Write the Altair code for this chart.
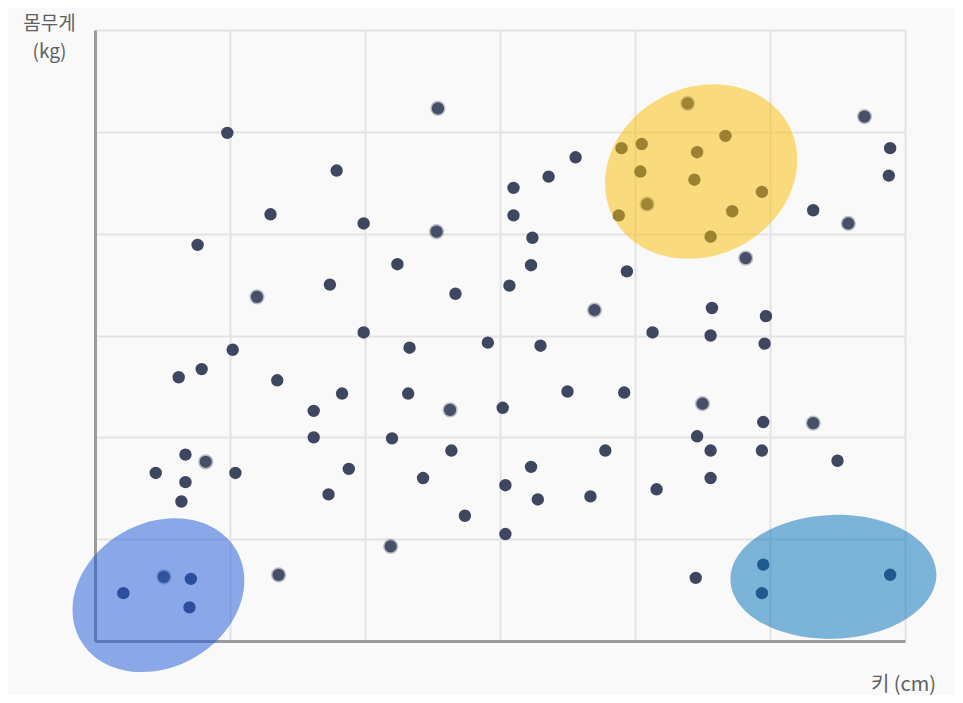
import altair as alt
import pandas as pd

# ---- scatter points (x = 키, y = 몸무게, in grid units 0..6) ----
pt_x = [0.98, 2.54, 0.76, 1.30, 1.79, 1.20, 1.99, 2.53, 2.24, 1.74,
        2.67, 1.99, 2.33, 1.02, 0.62, 0.79, 1.35, 1.62, 1.83, 2.32,
        2.63, 1.62, 2.20, 2.64, 0.67, 0.82, 0.45, 1.04, 0.67, 0.64,
        1.88, 1.73, 2.43, 2.74, 2.19, 1.36, 3.10, 3.36, 3.56, 3.10,
        3.24, 3.23, 3.07, 2.91, 3.30, 3.70, 3.02, 3.50, 3.92, 3.78,
        3.23, 3.04, 3.28, 3.67, 3.04, 3.94, 4.13, 4.16, 4.45, 4.56,
        4.57, 4.96, 4.97, 4.50, 4.46, 4.56, 4.56, 4.94, 4.95, 5.32,
        5.50, 4.82, 5.32, 5.58, 5.70, 5.89, 5.88,
        4.39, 3.90, 4.05, 4.04, 3.88, 4.09, 4.46, 4.44, 4.67, 4.56,
        4.72, 4.94,
        0.21, 0.51, 0.71, 0.70,
        4.95, 4.94, 5.89]
pt_y = [4.99, 5.23, 3.89, 4.19, 4.62, 3.38, 4.10, 4.02, 3.70, 3.50,
        3.41, 3.03, 2.88, 2.86, 2.59, 2.67, 2.56, 2.26, 2.43, 2.43,
        2.27, 2.00, 1.99, 1.87, 1.83, 1.76, 1.65, 1.65, 1.56, 1.37,
        1.69, 1.44, 1.60, 1.23, 0.93, 0.65, 4.45, 4.56, 4.75, 4.18,
        3.96, 3.69, 3.49, 2.93, 2.90, 3.25, 2.29, 2.45, 2.44, 1.87,
        1.71, 1.53, 1.39, 1.42, 1.05, 3.63, 3.03, 1.49, 0.62, 3.00,
        3.27, 2.92, 3.19, 2.33, 2.01, 1.87, 1.60, 1.87, 2.15, 2.14,
        1.77, 3.76, 4.23, 4.10, 5.15, 4.84, 4.57,
        5.28, 4.84, 4.88, 4.61, 4.18, 4.29, 4.80, 4.53, 4.96, 3.97,
        4.22, 4.41,
        0.47, 0.63, 0.61, 0.33,
        0.75, 0.47, 0.65]
pt_soft = [0, 1, 0, 0, 0, 1, 0, 1, 0, 0,
           0, 0, 0, 0, 0, 0, 0, 0, 0, 0,
           1, 0, 0, 0, 0, 1, 0, 0, 0, 0,
           0, 0, 0, 0, 1, 1, 0, 0, 0, 0,
           0, 0, 0, 0, 0, 1, 0, 0, 0, 0,
           0, 0, 0, 0, 0, 0, 0, 0, 0, 0,
           0, 0, 0, 1, 0, 0, 0, 0, 0, 1,
           0, 1, 0, 1, 1, 0, 0,
           1, 0, 0, 0, 0, 1, 0, 0, 0, 0,
           0, 0,
           0, 1, 0, 0,
           0, 0, 0]

# ---- highlight ellipses ----
ell_name = ["small", "large", "tall"]
ell_x = [0.47, 4.49, 5.47]
ell_y = [0.45, 4.61, 0.63]
ell_rx = [90, 99, 103]      # semi-major, px
ell_ry = [72, 84, 62]       # semi-minor, px
ell_angle = [330, 333, 358]
ell_color = ["#1c56d8", "#fabc00", "#006eba"]

GRID = [0, 1, 2, 3, 4, 5, 6]
FONT = "Noto Sans CJK KR"

points = pd.DataFrame({"x": pt_x, "y": pt_y, "soft": pt_soft})

K = 0.5523


def ellipse_path(r):
    kr = K * r
    return (f"M -1 0 C -1 {-kr:.4f} {-K} {-r:.4f} 0 {-r:.4f} "
            f"C {K} {-r:.4f} 1 {-kr:.4f} 1 0 "
            f"C 1 {kr:.4f} {K} {r:.4f} 0 {r:.4f} "
            f"C {-K} {r:.4f} -1 {kr:.4f} -1 0 Z")


ellipses = pd.DataFrame({
    "name": ell_name,
    "x": ell_x,
    "y": ell_y,
    "size": [(2 * a) ** 2 for a in ell_rx],
    "angle": ell_angle,
    "path": [ellipse_path(b / a) for a, b in zip(ell_rx, ell_ry)],
    "color": ell_color,
})

x_axis = alt.Axis(values=GRID, grid=True, gridColor="#e3e3e3", gridWidth=2,
                  domainColor="#9b9b9b", domainWidth=3, ticks=False, labels=False,
                  title="키 (cm)", titleX=808, titleY=43, titleAlign="center",
                  titleBaseline="middle", titleAngle=0, titleFont=FONT,
                  titleFontSize=20, titleFontWeight="normal", titleColor="#606060")
y_axis = alt.Axis(values=GRID, grid=True, gridColor="#e3e3e3", gridWidth=2,
                  domainColor="#9b9b9b", domainWidth=3, ticks=False, labels=False,
                  title=["몸무게", "(kg)"], titleX=-46, titleY=-16, titleAlign="center",
                  titleBaseline="top", titleAngle=0, titleLineHeight=28, titleFont=FONT,
                  titleFontSize=19, titleFontWeight="normal", titleColor="#606060")


def xe():
    return alt.X("x:Q", scale=alt.Scale(domain=[0, 6], nice=False, zero=False), axis=x_axis)


def ye():
    return alt.Y("y:Q", scale=alt.Scale(domain=[0, 6], nice=False, zero=False), axis=y_axis)


sharp = alt.Chart(points).transform_filter("datum.soft == 0").mark_circle(
    size=154, color="#3d4760", opacity=1
).encode(x=xe(), y=ye())

soft = alt.Chart(points).transform_filter("datum.soft == 1").mark_circle(
    size=150, color="#3d4760", opacity=0.95, stroke="#3d4760",
    strokeWidth=3, strokeOpacity=0.35
).encode(x=xe(), y=ye())

ell = alt.Chart(ellipses).mark_point(filled=True, opacity=0.5, strokeWidth=0).encode(
    x=xe(), y=ye(),
    size=alt.Size("size:Q", scale=None),
    angle=alt.Angle("angle:Q", scale=None),
    shape=alt.Shape("path:N", scale=None),
    color=alt.Color("color:N", scale=None),
)

chart = alt.layer(sharp, soft, ell).properties(
    width=810, height=611,
    autosize=alt.AutoSizeParams(type="none"),
    padding={"left": 87, "top": 22, "right": 50, "bottom": 54},
).configure(background="#f9f9f9").configure_view(strokeWidth=0)

chart.save("out.html", embed_options={"renderer": "svg", "actions": False})
